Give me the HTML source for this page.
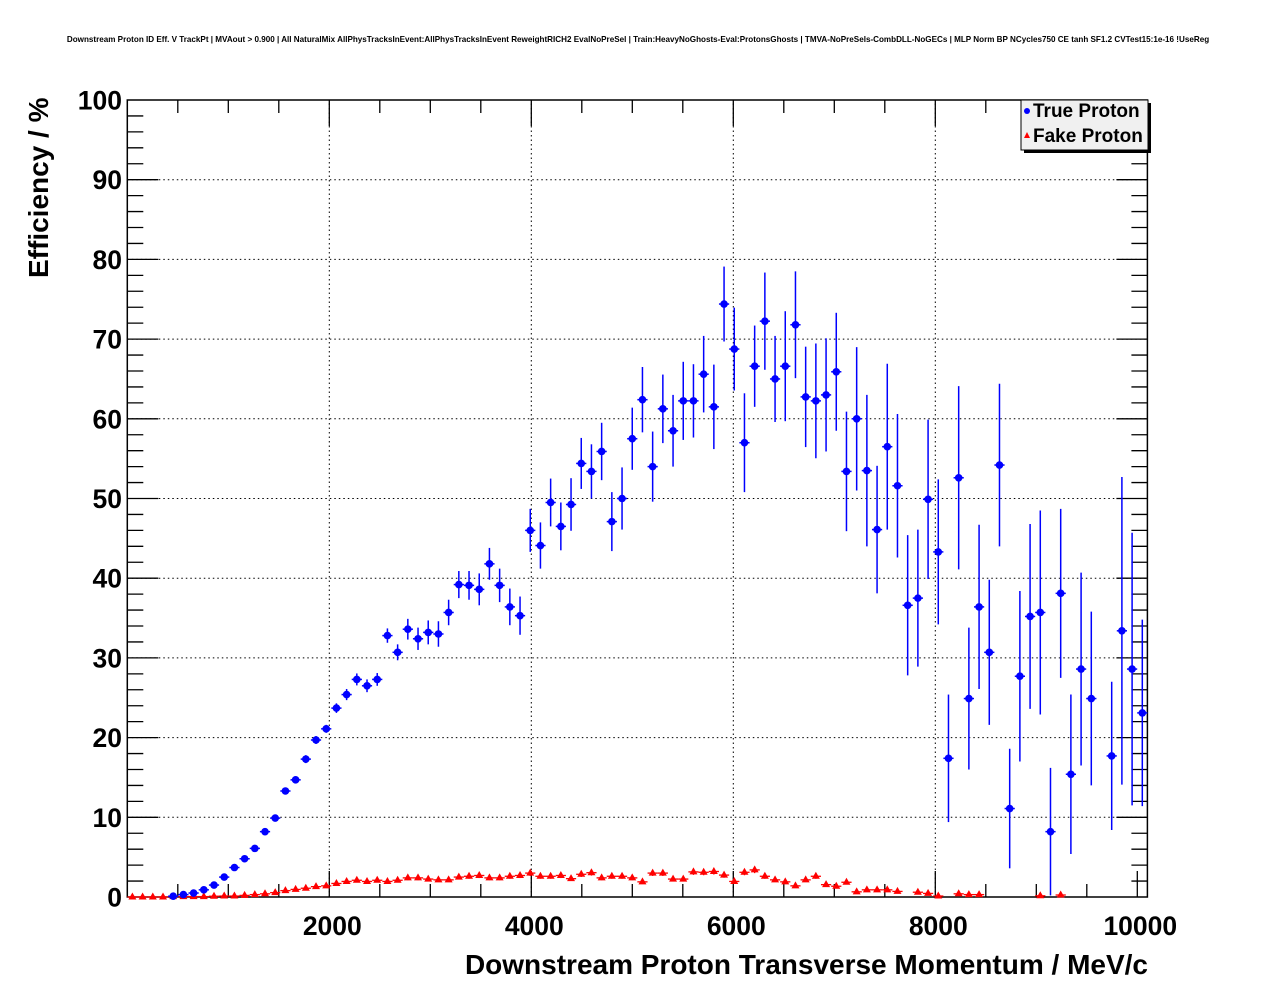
<!DOCTYPE html>
<html><head><meta charset="utf-8"><style>
html,body{margin:0;padding:0;background:#fff;}
svg{display:block;font-family:"Liberation Sans",sans-serif;}
</style></head><body>
<svg id="chart" width="1276" height="996" viewBox="0 0 1276 996" xmlns="http://www.w3.org/2000/svg">
<rect x="0" y="0" width="1276" height="996" fill="#fff"/>
<text x="638" y="42" text-anchor="middle" font-size="8.1" font-weight="bold">Downstream Proton ID Eff. V TrackPt | MVAout &gt; 0.900 | All NaturalMix AllPhysTracksInEvent:AllPhysTracksInEvent ReweightRICH2 EvalNoPreSel | Train:HeavyNoGhosts-Eval:ProtonsGhosts | TMVA-NoPreSels-CombDLL-NoGECs | MLP Norm BP NCycles750 CE tanh SF1.2 CVTest15:1e-16 !UseReg</text>
<g id="grid"></g>
<g id="axes"></g>
<g id="fake"></g>
<g id="true"></g>
<text transform="translate(48,278) rotate(-90)" font-size="28" font-weight="bold">Efficiency / %</text>
<text x="1148" y="974" text-anchor="end" font-size="28" font-weight="bold">Downstream Proton Transverse Momentum / MeV/c</text>
<g>
<rect x="1024" y="103" width="127" height="50" fill="#000"/>
<rect x="1021" y="100" width="127" height="50" fill="#f0f0f0" stroke="#000" stroke-width="1"/>
<circle cx="1027" cy="111" r="3" fill="#00f"/>
<text x="1033" y="117" font-size="19" font-weight="bold">True Proton</text>
<polygon points="1027,132 1024,138 1030,138" fill="#f00"/>
<text x="1033" y="142" font-size="19" font-weight="bold">Fake Proton</text>
</g>
</svg>
<script>
// Data: 100 bins of width 101 MeV/c from 0 to 10100
const binCount = 100;
const binWidth = 101;
const trueStart = 4;
const trueValues = [0.1,0.3,0.5,0.9,1.5,2.5,3.7,4.8,6.1,8.2,9.9,13.3,14.7,17.3,19.7,21.1,23.7,25.4,27.3,26.5,27.3,32.8,30.7,33.6,32.4,33.2,33.0,35.7,39.2,39.1,38.6,41.8,39.1,36.4,35.3,
46.0,44.1,49.5,46.5,49.25,54.4,53.4,55.9,47.1,50.0,57.5,62.4,54.0,61.25,58.5,62.25,62.25,65.6,61.5,74.4,68.75,57.0,66.6,72.25,65.0,66.6,71.8,62.75,62.25,63.0,65.9,
53.4,60.0,53.5,46.1,56.5,51.6,36.6,37.5,49.9,43.3,17.4,52.6,24.9,36.4,30.7,54.2,11.1,27.7,35.2,35.7,8.2,38.1,15.4,28.6,24.9,null,17.7,33.4,28.6,23.1];
const trueErrors = [0.2,0.2,0.2,0.2,0.2,0.3,0.3,0.3,0.3,0.3,0.4,0.4,0.4,0.5,0.5,0.5,0.6,0.7,0.75,0.8,0.8,0.9,1.0,1.3,1.4,1.5,1.6,1.6,1.7,1.8,2.0,2.0,2.1,2.3,2.4,
2.7,2.9,3.0,3.0,3.3,3.2,3.4,3.6,3.7,3.9,3.9,4.1,4.4,4.3,4.5,4.9,4.6,4.8,5.3,4.7,5.2,6.2,5.1,6.1,5.4,6.9,6.7,6.3,7.2,7.1,7.4,
7.5,9.0,9.5,8.0,10.4,9.0,8.8,8.6,10.0,9.1,8.0,11.5,8.9,10.3,9.1,10.2,7.5,10.7,11.6,12.8,8.0,10.6,10.0,12.1,10.9,0,9.3,19.3,17.1,11.7];
const fakeValues = [0,0,0,0,0.05,0.05,0.05,0.05,0.1,0.12,0.12,0.2,0.3,0.4,0.55,0.8,0.95,1.1,1.3,1.4,1.7,1.95,2.1,1.95,2.1,1.95,2.1,2.4,2.4,2.25,
2.15,2.15,2.5,2.6,2.7,2.4,2.4,2.6,2.7,3.0,2.6,2.6,2.7,2.3,2.85,3.05,2.4,2.6,2.6,2.4,1.9,3.0,3.0,2.25,2.25,3.15,3.1,3.2,2.75,1.95,
3.1,3.4,2.6,2.15,1.9,1.4,2.15,2.6,1.55,1.35,1.85,0.65,0.9,0.9,0.9,0.7,null,0.6,0.45,0.12,null,0.4,0.3,0.3,null,null,null,null,null,0.15,
null,0.25,null,null,null,null,null,null,null,null];
const xTickLabels = [2000,4000,6000,8000,10000];
const yTickLabels = [0,10,20,30,40,50,60,70,80,90,100];

const X0=127.3, X1=1147.4, Y0=897, Y1=100, XMAX=10100, YMAX=100;
const NS="http://www.w3.org/2000/svg";
function xs(v){return X0+(X1-X0)*v/XMAX;}
function ys(v){return Y0-(Y0-Y1)*v/YMAX;}
function mk(tag,attrs,parent){const e=document.createElementNS(NS,tag);for(const k in attrs)e.setAttribute(k,attrs[k]);parent.appendChild(e);return e;}
const grid=document.getElementById('grid'), axes=document.getElementById('axes');
for(const t of [2000,4000,6000,8000]){
  const l=mk('line',{x1:xs(t),x2:xs(t),y1:Y0,y2:Y1,stroke:'#000','stroke-width':1,'stroke-dasharray':'1.5,3'},grid);
  
  
}
for(let t=10;t<100;t+=10){
  const l=mk('line',{x1:X0,x2:X1,y1:ys(t),y2:ys(t),stroke:'#000','stroke-width':1,'stroke-dasharray':'1.5,3'},grid);
  
  
}
const fr=mk('rect',{x:X0,y:Y1,width:X1-X0,height:Y0-Y1,fill:'none',stroke:'#000','stroke-width':1.5},axes);


for(let t=500;t<XMAX;t+=500){
  const major=t%2000===0, len=major?26:13;
  mk('line',{x1:xs(t),x2:xs(t),y1:Y0,y2:Y0-len,stroke:'#000','stroke-width':1.3},axes);
  mk('line',{x1:xs(t),x2:xs(t),y1:Y1,y2:Y1+len,stroke:'#000','stroke-width':1.3},axes);
}
for(const t of xTickLabels){
  const tx=mk('text',{x:xs(t)+3,y:935,'text-anchor':'middle','font-size':26.5,'font-weight':'bold'},axes);
  tx.textContent=t;
  
  
}
for(let t=2;t<YMAX;t+=2){
  const major=t%10===0, len=major?31:16;
  mk('line',{x1:X0,x2:X0+len,y1:ys(t),y2:ys(t),stroke:'#000','stroke-width':1.3},axes);
  mk('line',{x1:X1,x2:X1-len,y1:ys(t),y2:ys(t),stroke:'#000','stroke-width':1.3},axes);
}
for(const t of yTickLabels){
  const tx=mk('text',{x:122,y:ys(t)+9.5,'text-anchor':'end','font-size':26.5,'font-weight':'bold'},axes);
  tx.textContent=t;
  
  
}
const fake=document.getElementById('fake');
fakeValues.forEach((v,i)=>{
  if(v===null) return;
  const c=(i+0.5)*binWidth, cx=xs(c), cy=ys(v);
  mk('line',{x1:xs(i*binWidth),x2:xs((i+1)*binWidth),y1:cy,y2:cy,stroke:'#f00','stroke-width':1.3},fake);
  const e=Math.max(0.15,v*0.12);
  mk('line',{x1:cx,x2:cx,y1:ys(v+e),y2:ys(Math.max(0,v-e)),stroke:'#f00','stroke-width':1.3},fake);
  const p=mk('polygon',{points:`${cx},${cy-4.5} ${cx-4},${cy+2.5} ${cx+4},${cy+2.5}`,fill:'#f00'},fake);
  
  
});
const tr=document.getElementById('true');
trueValues.forEach((v,j)=>{
  if(v===null) return;
  const i=j+trueStart, c=(i+0.5)*binWidth, cx=xs(c), cy=ys(v), e=trueErrors[j];
  mk('line',{x1:xs(i*binWidth),x2:xs((i+1)*binWidth),y1:cy,y2:cy,stroke:'#00f','stroke-width':1.5},tr);
  mk('line',{x1:cx,x2:cx,y1:ys(v+e),y2:ys(Math.max(0,v-e)),stroke:'#00f','stroke-width':1.5},tr);
  const p=mk('circle',{cx:cx,cy:cy,r:3.8,fill:'#00f'},tr);
  
  
});
</script>
</body></html>
